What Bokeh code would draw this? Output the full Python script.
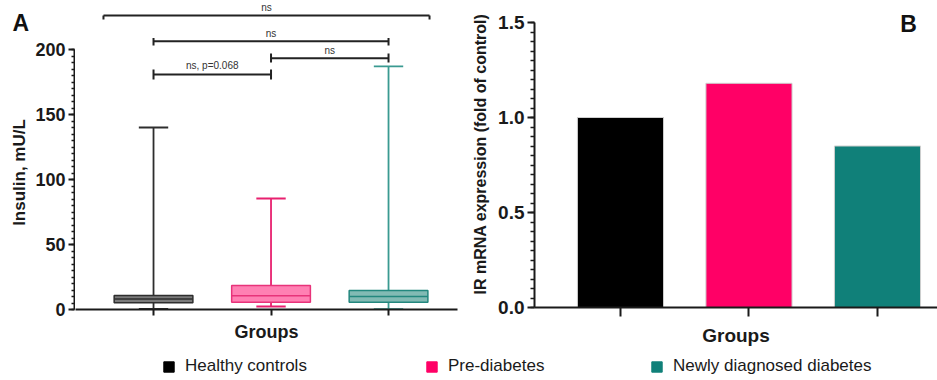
import numpy as np
from bokeh.plotting import figure
from bokeh.layouts import column, row
from bokeh.models import (Range1d, SingleIntervalTicker, FixedTicker, Label,
                          Legend, LegendItem, PrintfTickFormatter)
from bokeh.embed import file_html
from bokeh.resources import INLINE

# ---------------- data ----------------
groups = ["Healthy controls", "Pre-diabetes", "Newly diagnosed diabetes"]
group_x = [1, 2, 3]
ins_min = [0.5, 2.3, 0.2]
ins_q1 = [5.2, 5.6, 5.6]
ins_median = [8.0, 10.5, 10.0]
ins_q3 = [10.8, 18.5, 14.6]
ins_max = [140.0, 85.4, 187.0]
ir_fold = [1.00, 1.18, 0.85]
insulin_ticks = [0, 50, 100, 150, 200]
ir_ticks = [0.0, 0.5, 1.0, 1.5]
sig_labels = ["ns, p=0.068", "ns", "ns", "ns"]

# ---------------- styles ----------------
FONT = "Liberation Sans"
bar_colors = ["#000000", "#ff0066", "#108079"]
box_fill = ["#7a7a7a", "#ff80b3", "#82bab4"]
box_line = ["#2e2e2e", "#e8337a", "#23877e"]
whisk_col = ["#2e2e2e", "#e8206f", "#3a9a91"]
AX = "#1a1a1a"


def style_axis(ax, tick_font):
    ax.axis_line_width = 2
    ax.axis_line_color = AX
    ax.major_tick_line_width = 2
    ax.major_tick_line_color = AX
    ax.minor_tick_line_width = 1.5
    ax.minor_tick_line_color = AX
    ax.major_tick_in = 0
    ax.minor_tick_in = 0
    ax.major_label_text_font = FONT
    ax.major_label_text_font_style = "bold"
    ax.major_label_text_font_size = tick_font
    ax.major_label_text_color = AX
    ax.axis_label_text_font = FONT
    ax.axis_label_text_font_style = "bold"
    ax.axis_label_text_color = AX


def style_xcat(ax, size, standoff, tick_out):
    style_axis(ax, "0px")
    ax.ticker = FixedTicker(ticks=group_x)
    ax.major_label_overrides = {g: "" for g in group_x}
    ax.major_label_standoff = 0
    ax.minor_tick_line_color = None
    ax.major_tick_out = tick_out
    ax.axis_label = "Groups"
    ax.axis_label_text_font_size = size
    ax.axis_label_standoff = standoff


def clean(p):
    p.xgrid.visible = False
    p.ygrid.visible = False
    p.outline_line_color = None


PX_PER_UNIT_A = 1.3      # vertical scale of panel A (px per mU/L)
PX_PER_UNIT_B = 190.0    # vertical scale of panel B (px per fold)

# ---------------- panel A : y axis (with panel letter as title) ----------------
pAY = figure(width=75, height=352, x_range=Range1d(0, 1),
             y_range=Range1d(0, 274 / PX_PER_UNIT_A), output_backend="svg",
             toolbar_location=None, x_axis_location=None,
             min_border_left=74, min_border_right=0, min_border_top=35,
             min_border_bottom=43)
clean(pAY)
pAY.title.text = "A"
pAY.title.align = "left"
pAY.title.offset = -62
pAY.title.standoff = 0
pAY.title.text_font = FONT
pAY.title.text_font_size = "23px"
pAY.title.text_font_style = "bold"
pAY.title.text_color = "#111111"
ya = pAY.yaxis[0]
style_axis(ya, "18px")
ya.ticker = SingleIntervalTicker(interval=50, num_minor_ticks=10)
ya.bounds = (insulin_ticks[0], insulin_ticks[-1])
ya.major_tick_out = 6
ya.minor_tick_out = 3
ya.major_label_standoff = 3
ya.axis_label = "Insulin, mU/L"
ya.axis_label_text_font_size = "17px"
ya.axis_label_standoff = 3

# ---------------- panel A : box plot ----------------
pA = figure(width=387, height=352, x_range=Range1d(0.336, 3.587),
            y_range=Range1d(0, 309 / PX_PER_UNIT_A), output_backend="svg",
            toolbar_location=None, y_axis_location=None,
            min_border_left=0, min_border_right=5,
            min_border_top=0, min_border_bottom=43)
clean(pA)
style_xcat(pA.xaxis[0], "18px", 6, 6)

gx = np.array(group_x, dtype=float)
box_w = 0.67
cap_w = 0.25
pA.segment(x0=gx, y0=np.array(ins_q3), x1=gx, y1=np.array(ins_max),
           line_color=whisk_col, line_width=1.8)
pA.segment(x0=gx, y0=np.array(ins_min), x1=gx, y1=np.array(ins_q1),
           line_color=whisk_col, line_width=1.8)
pA.segment(x0=gx - cap_w / 2, y0=ins_max, x1=gx + cap_w / 2, y1=ins_max,
           line_color=whisk_col, line_width=1.8)
pA.segment(x0=gx - cap_w / 2, y0=ins_min, x1=gx + cap_w / 2, y1=ins_min,
           line_color=whisk_col, line_width=1.8)
pA.vbar(x=gx, bottom=ins_q1, top=ins_q3, width=box_w, fill_color=box_fill,
        line_color=box_line, line_width=1.5)
pA.segment(x0=gx - box_w / 2, y0=ins_median, x1=gx + box_w / 2, y1=ins_median,
           line_color=box_line, line_width=1.5)

# significance brackets (x0, x1, line y, tick up, tick down, label offset px)
brackets = [
    (1.0, 2.0, 180.8, 3.8, 3.9, 8.5),
    (2.0, 3.0, 193.3, 3.6, 3.3, 8),
    (1.0, 3.0, 206.4, 2.4, 3.3, 8),
    (0.574, 3.349, 226.2, 0.0, 3.1, 7.5),
]
for (x0, x1, yb, up, dn, off), lab in zip(brackets, sig_labels):
    pA.segment(x0=[x0, x0, x1], y0=[yb, yb - dn, yb - dn],
               x1=[x1, x0, x1], y1=[yb, yb + up, yb + up],
               line_color="#222222", line_width=2)
    pA.add_layout(Label(x=(x0 + x1) / 2, y=yb, y_offset=off, text=lab,
                        text_align="center", text_baseline="alphabetic",
                        text_font=FONT, text_font_size="10px",
                        text_color="#333333"))

# ---------------- panel B : bar chart ----------------
pB = figure(width=475, height=352, x_range=Range1d(0.331, 3.467),
            y_range=Range1d(0, 307 / PX_PER_UNIT_B), output_backend="svg",
            toolbar_location=None, min_border_left=72, min_border_right=0,
            min_border_top=0, min_border_bottom=45)
clean(pB)
style_xcat(pB.xaxis[0], "19px", 8, 9)
yb_ax = pB.yaxis[0]
style_axis(yb_ax, "19px")
yb_ax.ticker = SingleIntervalTicker(interval=0.5, num_minor_ticks=10)
yb_ax.formatter = PrintfTickFormatter(format="%.1f")
yb_ax.bounds = (ir_ticks[0], ir_ticks[-1])
yb_ax.major_tick_out = 7
yb_ax.minor_tick_out = 4
yb_ax.major_label_standoff = 3
yb_ax.axis_label = "IR mRNA expression (fold of control)"
yb_ax.axis_label_text_font_size = "16px"
yb_ax.axis_label_standoff = 6

pB.vbar(x=gx, top=ir_fold, bottom=0, width=0.67, fill_color=bar_colors,
        line_color="#cfcfcf", line_width=1)
pB.add_layout(Label(x=3.241, y=1.492, text="B", text_align="center",
                    text_baseline="middle", text_font=FONT,
                    text_font_size="23px", text_font_style="bold",
                    text_color="#111111"))

# ---------------- legend strip ----------------
pL = figure(width=937, height=28, x_range=Range1d(0, 937), y_range=Range1d(0, 28),
            output_backend="svg", toolbar_location=None,
            x_axis_location=None, y_axis_location=None, min_border=0)
clean(pL)
legend_x = [162, 425, 650]
for lab, col, lx in zip(groups, bar_colors, legend_x):
    # swatch source renderer (kept outside the visible range)
    r = pL.rect(x=[-1000], y=[-1000], width=1, height=1,
                fill_color=col, line_color=col)
    pL.add_layout(Legend(items=[LegendItem(label=lab, renderers=[r])],
                         location=(lx, 4), orientation="horizontal",
                         padding=0, margin=0, spacing=0,
                         glyph_width=13, glyph_height=13, label_height=13,
                         label_standoff=10, label_text_font=FONT,
                         label_text_font_size="17px",
                         label_text_color="#1a1a1a",
                         border_line_alpha=0, background_fill_alpha=0))

layout = column(row(column(pAY), column(pA), column(pB)), pL)
open("out.html", "w").write(file_html(layout, INLINE))
